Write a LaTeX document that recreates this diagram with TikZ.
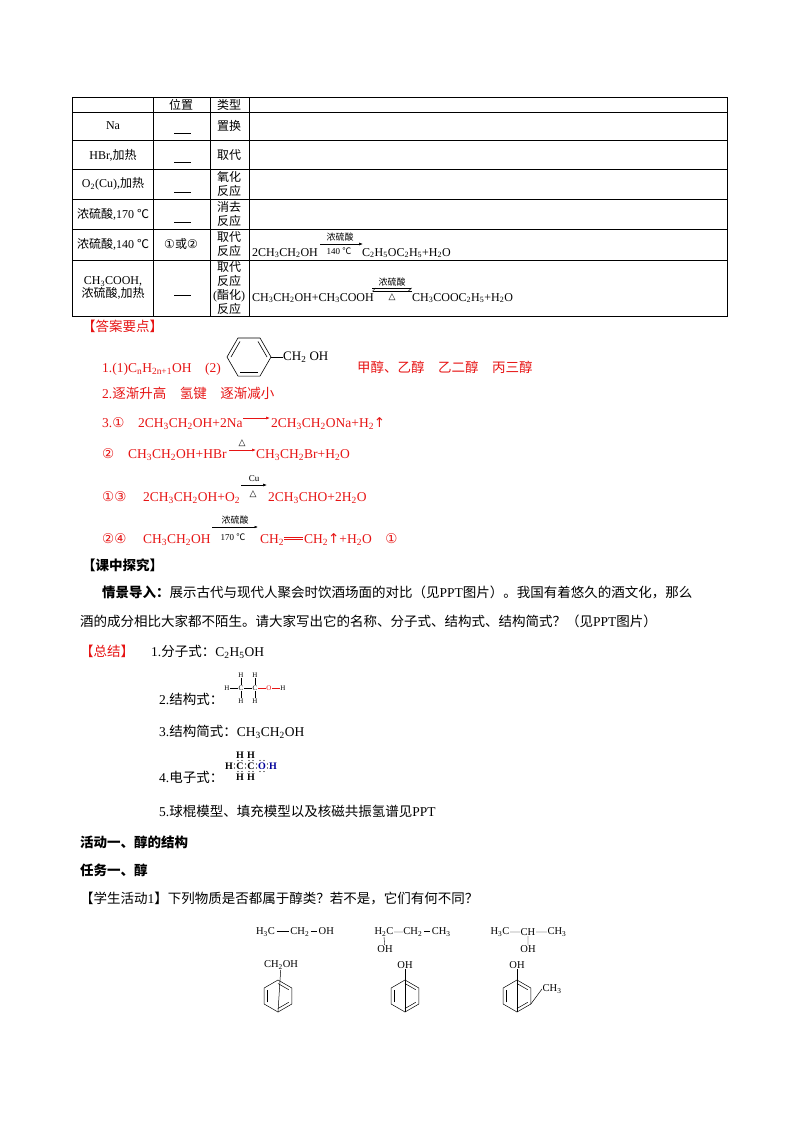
\documentclass[tikz,border=0pt]{standalone}
\usepackage{fontspec}
\setmainfont{Liberation Serif}
\newfontfamily\cjk{Noto Sans CJK SC}
\newfontfamily\sym{DejaVu Sans}
\usetikzlibrary{arrows.meta,calc}
\definecolor{ansred}{RGB}{230,20,20}
\newcommand\sbs[1]{\textsubscript{#1}}
\newcommand\zh[1]{{\cjk #1}}
\begin{document}
\begin{tikzpicture}[x=1pt,y=-1pt,
  tx/.style={anchor=base west,inner sep=0pt,font=\fontsize{12}{14}\selectfont},
  bt/.style={anchor=base west,inner sep=0pt,font=\fontsize{13.5}{16}\selectfont},
  rt/.style={bt,text=ansred},
  sm/.style={inner sep=0pt,font=\fontsize{9}{10}\selectfont},
  tc/.style={inner sep=0pt,font=\fontsize{12}{13}\selectfont,align=center},
  rarr/.style={-{Latex[length=4pt,width=3pt]},line width=0.6pt},
  gridl/.style={line width=0.6pt}]
\useasboundingbox (0,0) rectangle (800,1132);
% ---- table
\draw[gridl,line width=0.9pt] (72,97) rectangle (727,316);
\foreach \y in {112,140,169,199,229,260}{\draw[gridl] (72,\y)--(727,\y);}
\foreach \x in {153,210,249}{\draw[gridl] (\x,97)--(\x,316);}
\node[tc] (h1) at (181,104.5) {\zh{位置}};
\node[tc] (h2) at (229,104.5) {\zh{类型}};
\node[tc] (r1a) at (113,126) {Na};
\node[tc] (r2a) at (113,155) {HBr,\zh{加热}};
\node[tc] (r3a) at (113,184) {O\sbs{2}(Cu),\zh{加热}};
\node[tc] (r4a) at (113,214) {\zh{浓硫酸},170 \zh{℃}};
\node[tc] (r5a) at (113,244) {\zh{浓硫酸},140 \zh{℃}};
\node[tc] (r6a) at (113,288) {CH\sbs{3}COOH,\\\zh{浓硫酸},\zh{加热}};
\foreach \y in {133,162,192,222,295}{\draw[line width=0.6pt] (174,\y)--(191,\y);}
\node[tc] (r5b) at (181,244) {\sym ①\zh{或}\sym ②};
\node[tc] (r1c) at (229,126) {\zh{置换}};
\node[tc] (r2c) at (229,155) {\zh{取代}};
\node[tc,font=\fontsize{12}{14}\selectfont] (r3c) at (229,184) {\zh{氧化}\\\zh{反应}};
\node[tc,font=\fontsize{12}{14}\selectfont] (r4c) at (229,214) {\zh{消去}\\\zh{反应}};
\node[tc,font=\fontsize{12}{14}\selectfont] (r5c) at (229,244) {\zh{取代}\\\zh{反应}};
\node[tc,font=\fontsize{12}{14}\selectfont] (r6c) at (229,288) {\zh{取代}\\\zh{反应}\\(\zh{酯化})\\\zh{反应}};
\node[tx] (e5a) at (252,256) {2CH\sbs{3}CH\sbs{2}OH};
\coordinate (e5s) at (320,244); \coordinate (e5e) at (363,244);
\draw[rarr] (e5s)--(e5e);
\node[sm,above] (e5t) at (340,241) {\zh{浓硫酸}};
\node[sm] (e5u) at (339,251) {140 \zh{℃}};
\node[tx] (e5b) at (362,256) {C\sbs{2}H\sbs{5}OC\sbs{2}H\sbs{5}+H\sbs{2}O};
\node[tx] (e6a) at (252,301) {CH\sbs{3}CH\sbs{2}OH+CH\sbs{3}COOH};
\draw[line width=0.5pt,-{Straight Barb[right,length=3pt]}] (372,288)--(412,288);
\draw[line width=0.5pt,-{Straight Barb[right,length=3pt]}] (412,291)--(372,291);
\node[sm,above] (e6t) at (392,286) {\zh{浓硫酸}};
\node[sm] (e6u) at (392,297) {\sym △};
\node[tx] (e6b) at (412,301) {CH\sbs{3}COOC\sbs{2}H\sbs{5}+H\sbs{2}O};
% ---- answers
\node[bt,text=ansred] (ans) at (82,331) {\zh{【答案要点】}};
\node[rt] (a1) at (102,372) {1.(1)C\sbs{n}H\sbs{2n+1}OH\quad(2)};
\coordinate (bz) at (249,357);
\draw[line width=0.6pt] (bz)+(0:22)--+(60:22)--+(120:22)--+(180:22)--+(240:22)--+(300:22)--cycle;
\draw[line width=0.6pt] ($(bz)+(60:18)$) -- ($(bz)+(120:18)$);
\draw[line width=0.6pt] ($(bz)+(180:18)$) -- ($(bz)+(240:18)$);
\draw[line width=0.6pt] ($(bz)+(300:18)$) -- ($(bz)+(0:18)$);
\draw[line width=0.6pt] (271,357)--(283,357);
\node[anchor=west,inner sep=0pt,font=\fontsize{13}{14}\selectfont] (bzo) at (283,357) {CH\sbs{2} OH};
\node[rt] (a1b) at (357,372) {\zh{甲醇、乙醇\quad 乙二醇\quad 丙三醇}};
\node[rt] (a2) at (102,398) {2.\zh{逐渐升高\quad 氢键\quad 逐渐减小}};
\node[rt] (a3) at (102,427) {3.\sym ①};
\node[rt] (a3b) at (138,427) {2CH\sbs{3}CH\sbs{2}OH+2Na};
\draw[rarr,ansred] (243,418)--(270,418);
\node[rt] (a3c) at (271,427) {2CH\sbs{3}CH\sbs{2}ONa+H\sbs{2}{\sym↑}};
\node[rt] (a4) at (102,458) {\sym ②};
\node[rt] (a4b) at (128,458) {CH\sbs{3}CH\sbs{2}OH+HBr};
\draw[rarr,ansred] (229,450)--(256,450);
\node[sm,above,text=black] (a4t) at (242,447) {\sym △};
\node[rt] (a4c) at (256,458) {CH\sbs{3}CH\sbs{2}Br+H\sbs{2}O};
\node[rt] (a5) at (102,501) {\sym ①③};
\node[rt] (a5b) at (143,501) {2CH\sbs{3}CH\sbs{2}OH+O\sbs{2}};
\draw[rarr,black] (241,485)--(267,485);
\node[sm,above] (a5t) at (254,482) {Cu};
\node[sm] (a5u) at (253,494) {\sym △};
\node[rt] (a5c) at (268,501) {2CH\sbs{3}CHO+2H\sbs{2}O};
\node[rt] (a6) at (102,543) {\sym ②④};
\node[rt] (a6b) at (143,543) {CH\sbs{3}CH\sbs{2}OH};
\draw[line width=0.5pt,-{Latex[length=3.5pt,width=2.5pt]}] (212,527)--(258,527);
\node[sm,above] (a6t) at (235,524) {\zh{浓硫酸}};
\node[sm] (a6u) at (233,537) {170 \zh{℃}};
\node[rt] (a6c) at (260,543) {CH\sbs{2}};
\draw[ansred,line width=0.6pt] (284,537)--(303,537) (284,539.5)--(303,539.5);
\node[rt] (a6d) at (304,543) {CH\sbs{2}{\sym↑}+H\sbs{2}O\quad {\sym ①}};
% ---- body
\node[bt] (kz) at (82,570) {\zh{\bfseries 【课中探究】}};
\node[bt] (p1) at (102,597) {\zh{\bfseries 情景导入：}\zh{展示古代与现代人聚会时饮酒场面的对比（见}PPT\zh{图片）。我国有着悠久的酒文化，那么}};
\node[bt] (p2) at (80,626) {\zh{酒的成分相比大家都不陌生。请大家写出它的名称、分子式、结构式、结构简式？（见}PPT\zh{图片）}};
\node[rt] (zj) at (80,656) {\zh{【总结】}};
\node[bt] (s1) at (151,656) {1.\zh{分子式：}C\sbs{2}H\sbs{5}OH};
% structural formula
\begin{scope}[every node/.style={inner sep=0.5pt,font=\fontsize{7}{7}\selectfont}]
\node (hl) at (227,688) {H}; \node (c1) at (241,688) {C}; \node (c2) at (255,688) {C};
\node[text=ansred] (o) at (269,688) {O}; \node (hr) at (283,688) {H};
\node (h1u) at (241,675) {H}; \node (h1d) at (241,701) {H};
\node (h2u) at (255,675) {H}; \node (h2d) at (255,701) {H};
\end{scope}
\draw[line width=0.3pt] (hl)--(c1) (c1)--(c2) (c1)--(h1u) (c1)--(h1d) (c2)--(h2u) (c2)--(h2d);
\draw[line width=0.3pt,ansred] (c2)--(o) (o)--(hr);
\node[bt] (s2) at (159,704) {2.\zh{结构式：}};
\node[bt] (s3) at (159,736) {3.\zh{结构简式：}CH\sbs{3}CH\sbs{2}OH};
% electron formula
\begin{scope}[every node/.style={inner sep=0pt,font=\fontsize{10}{10}\selectfont\bfseries}]
\node (eh1) at (240,755) {H}; \node (eh2) at (251,755) {H};
\node (ec1) at (240,766) {C}; \node (ec2) at (251,766) {C};
\node[text=blue!60!black] (eo) at (262,766) {O};
\node (ehl) at (229,766) {H}; \node[text=blue!60!black] (ehr) at (273,766) {H};
\node (eh3) at (240,777) {H}; \node (eh4) at (251,777) {H};
\end{scope}
\foreach \x in {234.5,245.5,256.5,267.5}{\fill (\x,764)circle(0.7) (\x,768)circle(0.7);}
\foreach \x in {240,251}{\fill (\x-2,760.5)circle(0.7) (\x+2,760.5)circle(0.7) (\x-2,771.5)circle(0.7) (\x+2,771.5)circle(0.7);}
\fill (260,760.5)circle(0.7) (264,760.5)circle(0.7) (260,771.5)circle(0.7) (264,771.5)circle(0.7);
\node[bt] (s4) at (159,782) {4.\zh{电子式：}};
\node[bt] (s5) at (159,816) {5.\zh{球棍模型、填充模型以及核磁共振氢谱见}PPT};
\node[bt] (t1) at (80,847) {\zh{\bfseries 活动一、醇的结构}};
\node[bt] (t2) at (80,875) {\zh{\bfseries 任务一、醇}};
\node[bt] (t3) at (80,903) {\zh{【学生活动}1\zh{】下列物质是否都属于醇类？若不是，它们有何不同？}};
% ---- structures
\begin{scope}[every node/.style={inner sep=0.5pt,font=\fontsize{10.5}{11}\selectfont}]
\node (m1) at (295,932) {H\sbs{3}C\,\rule[3pt]{12pt}{0.4pt}\,CH\sbs{2}\,\rule[3pt]{6pt}{0.4pt}\,OH};
\node (m2a) at (384,932) {H\sbs{2}C};
\node (m2b) at (427,932) {CH\sbs{2}\,\rule[3pt]{6pt}{0.4pt}\,CH\sbs{3}};
\node (m2o) at (385,949) {OH};
\node (m3a) at (500,932) {H\sbs{3}C};
\node (m3b) at (528,932) {CH};
\node (m3c) at (557,932) {CH\sbs{3}};
\node (m3o) at (528,949) {OH};
\node (b1t) at (281,965) {CH\sbs{2}OH};
\node (b2t) at (405,965) {OH};
\node (b3t) at (517,965) {OH};
\node[anchor=west] (b3m) at (542,989) {CH\sbs{3}};
\end{scope}
\draw[line width=0.4pt] (m2a)--(m2b) (m2a.south)--(m2o) (m3a)--(m3b) (m3b)--(m3c) (m3b)--(m3o);
\foreach \cx/\tn in {278/b1t,405/b2t,517/b3t}{
  \coordinate (c) at (\cx,996);
  \draw[line width=0.5pt] (c)+(90:16)--+(150:16)--+(210:16)--+(270:16)--+(330:16)--+(30:16)--cycle;
  \draw[line width=0.5pt] ($(c)+(30:12.5)$)--($(c)+(90:12.5)$);
  \draw[line width=0.5pt] ($(c)+(150:12.5)$)--($(c)+(210:12.5)$);
  \draw[line width=0.5pt] ($(c)+(270:12.5)$)--($(c)+(330:12.5)$);
  \draw[line width=0.5pt] (\tn)--($(c)+(90:16)$);
}
\draw[line width=0.5pt] ($(517,996)+(30:16)$)--(b3m.west);
\end{tikzpicture}
\end{document}
